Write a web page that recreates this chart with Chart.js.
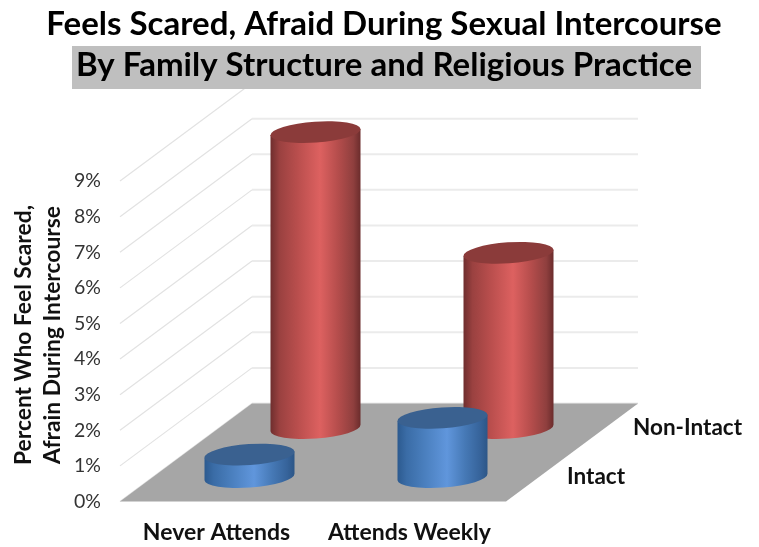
<!DOCTYPE html>
<html>
<head>
<meta charset="utf-8">
<style>
  html, body { margin: 0; padding: 0; background: #fff; }
  #wrap { width: 759px; height: 547px; }
</style>
<script src="https://cdn.jsdelivr.net/npm/chart.js@4"></script>
</head>
<body>
<div id="wrap"><canvas id="main-chart"></canvas></div>
<script>
const categories = ["Never Attends", "Attends Weekly"];
const intact_values = [0.63, 1.66];
const non_intact_values = [8.31, 4.92];
const y_ticks = [0, 1, 2, 3, 4, 5, 6, 7, 8, 9];
const title_lines = ["Feels Scared, Afraid During Sexual Intercourse", "By Family Structure and Religious Practice"];
const y_title_lines = ["Percent Who Feel Scared,", "Afrain During Intercourse"];

const font_name = "Lato";

// floor goes this far back, right and up, from the front edge
const depth_x = 132;
const depth_y = 98;
const ellipse_ry = 10.5;
const ellipse_tilt = -4 * Math.PI / 180;

const red_look = {
    top: "#8b3b3a",
    stops: [[0, "#6f2e2e"], [0.1, "#9a4140"], [0.3, "#b94e4d"], [0.55, "#dd6160"], [0.75, "#b54d4c"], [0.92, "#8f3f3e"], [1, "#6b2c2c"]]
};
const blue_look = {
    top: "#3a6190",
    stops: [[0, "#2c5a8f"], [0.1, "#3a6ca6"], [0.3, "#4a7fbe"], [0.55, "#6096dc"], [0.75, "#4679b6"], [0.92, "#36639a"], [1, "#2c5687"]]
};

function drawCylinder(ctx, cx, top_y, base_y, half_w, look)
{
    const dx = half_w;
    const rx = half_w / Math.cos(ellipse_tilt);
    const dy = rx * Math.sin(ellipse_tilt);

    const grad = ctx.createLinearGradient(cx - dx, 0, cx + dx, 0);
    look.stops.forEach(s => grad.addColorStop(s[0], s[1]));

    ctx.beginPath();
    ctx.moveTo(cx - dx, top_y - dy);
    ctx.lineTo(cx - dx, base_y - dy);
    ctx.ellipse(cx, base_y, rx, ellipse_ry, ellipse_tilt, Math.PI, 0, true);
    ctx.lineTo(cx + dx, top_y + dy);
    ctx.closePath();
    ctx.fillStyle = grad;
    ctx.fill();

    ctx.beginPath();
    ctx.ellipse(cx, top_y, rx, ellipse_ry, ellipse_tilt, 0, Math.PI * 2);
    ctx.fillStyle = look.top;
    ctx.fill();
}

const scene_plugin = {
    id: "scene",
    // walls, floor and the title band go under the native title text
    beforeDraw(chart)
    {
        const ctx = chart.ctx;
        const area = chart.chartArea;
        const y_scale = chart.scales.y;

        ctx.save();
        y_scale.ticks.forEach(t => {
            const y = y_scale.getPixelForValue(t.value);
            ctx.strokeStyle = "#e2e2e2";
            ctx.lineWidth = 1.2;
            ctx.beginPath();
            ctx.moveTo(area.left, y);
            ctx.lineTo(area.left + depth_x, y - depth_y);
            ctx.stroke();
            ctx.strokeStyle = "#ebebeb";
            ctx.lineWidth = 2;
            ctx.beginPath();
            ctx.moveTo(area.left + depth_x, y - depth_y);
            ctx.lineTo(area.right + depth_x, y - depth_y);
            ctx.stroke();
        });

        ctx.fillStyle = "#a6a6a6";
        ctx.beginPath();
        ctx.moveTo(area.left, area.bottom);
        ctx.lineTo(area.right, area.bottom);
        ctx.lineTo(area.right + depth_x, area.bottom - depth_y);
        ctx.lineTo(area.left + depth_x, area.bottom - depth_y);
        ctx.closePath();
        ctx.fill();

        ctx.fillStyle = "#bfbfbf";
        ctx.fillRect(72, 46, 629, 43);
        ctx.restore();
    },
    afterDatasetsDraw(chart)
    {
        const ctx = chart.ctx;
        const area = chart.chartArea;
        const looks = [blue_look, red_look];
        const depths = [0.25, 0.75];

        ctx.save();
        // back row first so the front row overlaps it
        [1, 0].forEach(d => {
            const off_x = depth_x * depths[d];
            const off_y = depth_y * depths[d];
            chart.getDatasetMeta(d).data.forEach(bar => {
                drawCylinder(ctx, bar.x + off_x, bar.y - off_y, bar.base - off_y, bar.width / 2, looks[d]);
            });

            ctx.fillStyle = "#111";
            ctx.font = "bold 22.5px " + font_name;
            ctx.textAlign = "left";
            ctx.textBaseline = "middle";
            ctx.fillText(chart.data.datasets[d].label, area.right + off_x + 28, area.bottom - off_y);
        });

        // axis title sits a bit above the middle of the axis, so not the native one
        ctx.font = "bold 22.8px " + font_name;
        ctx.textAlign = "center";
        ctx.translate(38.5, 335);
        ctx.rotate(-Math.PI / 2);
        ctx.fillText(y_title_lines[0], 0, -14.5);
        ctx.fillText(y_title_lines[1], 0, 14.5);
        ctx.restore();
    }
};

const chart = new Chart(document.getElementById("main-chart"), {
    type: "bar",
    data: {
        labels: categories,
        datasets: [
            { label: "Intact", data: intact_values, backgroundColor: "rgba(0,0,0,0)", grouped: false, barThickness: 90 },
            { label: "Non-Intact", data: non_intact_values, backgroundColor: "rgba(0,0,0,0)", grouped: false, barThickness: 90 }
        ]
    },
    plugins: [scene_plugin],
    options: {
        responsive: true,
        maintainAspectRatio: false,
        animation: false,
        layout: { padding: { left: 9, right: 0, top: 0, bottom: 0 } },
        plugins: {
            legend: { display: false },
            tooltip: { enabled: false },
            title: {
                display: true,
                text: title_lines,
                color: "#000",
                font: { family: font_name, size: 33, weight: "bold", lineHeight: 1.243 },
                padding: { top: 3.5, bottom: 95.5 }
            }
        },
        scales: {
            x: {
                grid: { display: false, drawTicks: false },
                border: { display: false },
                ticks: { color: "#111", font: { family: font_name, size: 23, weight: "bold" }, padding: 17.5, maxRotation: 0 },
                afterFit(s) { s.height = 45.5; }
            },
            y: {
                min: 0,
                max: 9,
                afterBuildTicks(s) { s.ticks = y_ticks.map(v => ({ value: v })); },
                grid: { display: false, drawTicks: false },
                border: { display: false },
                ticks: {
                    color: "#333",
                    font: { family: font_name, size: 19.5 },
                    padding: 19,
                    callback: v => v + "%"
                },
                afterFit(s) { s.width = 111; }
            },
            // empty axis, only holds the room the floor and depth labels need
            right_room: {
                axis: "y",
                type: "linear",
                position: "right",
                grid: { display: false },
                border: { display: false },
                ticks: { display: false },
                afterFit(s) { s.width = 253; }
            }
        }
    }
});
</script>
</body>
</html>
